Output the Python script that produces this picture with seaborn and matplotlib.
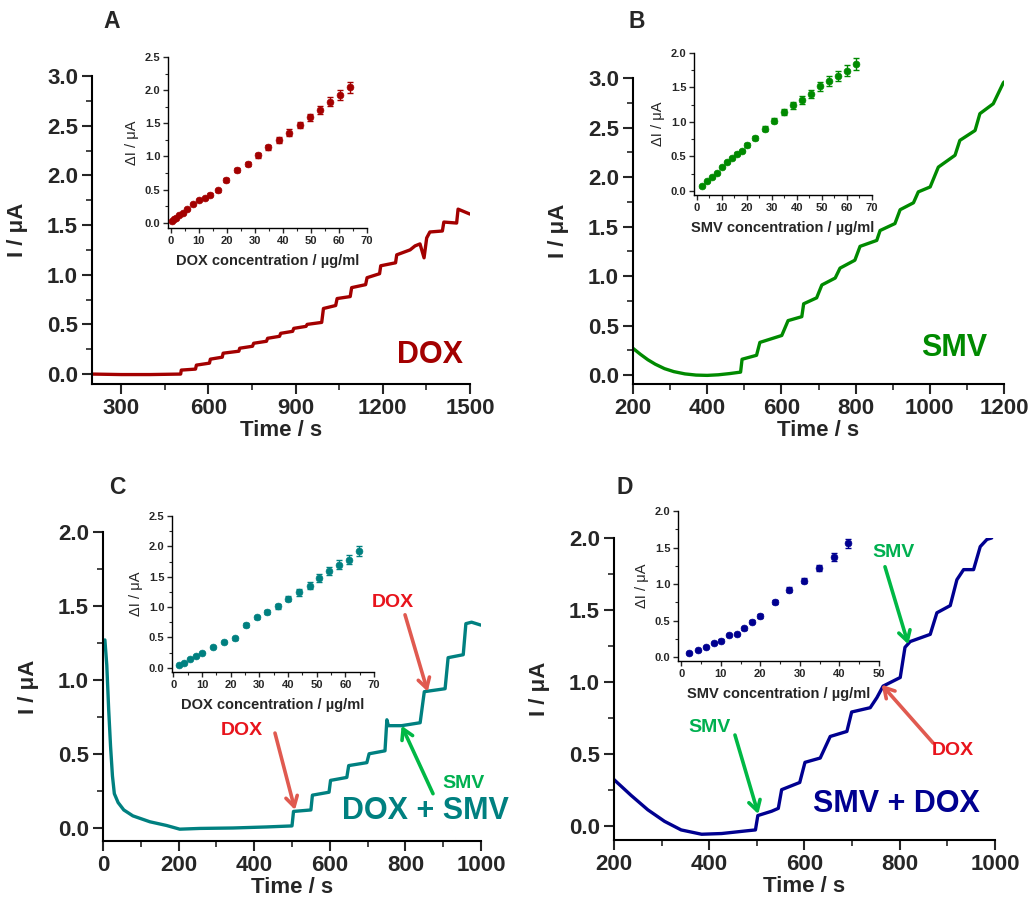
import matplotlib
matplotlib.use("Agg")
import matplotlib.pyplot as plt
from matplotlib.ticker import MultipleLocator
import seaborn as sns

# ---- main amperometric traces (time / s, current / uA)
a_time = [200, 300, 400, 505, 507, 556, 559, 604, 607, 648, 651, 705, 708, 752, 756, 800, 804,
          845, 849, 890, 894, 936, 940, 990, 996, 1038, 1043, 1088, 1093, 1141, 1146, 1189,
          1193, 1244, 1248, 1294, 1311, 1328, 1342, 1351, 1362, 1405, 1410, 1454, 1459, 1500]
a_curr = [0.0, -0.005, -0.005, 0.0, 0.04, 0.05, 0.09, 0.11, 0.15, 0.17, 0.21, 0.23, 0.26, 0.28,
          0.31, 0.33, 0.36, 0.38, 0.41, 0.43, 0.46, 0.48, 0.50, 0.52, 0.66, 0.69, 0.76, 0.78,
          0.87, 0.90, 0.97, 1.01, 1.09, 1.12, 1.20, 1.25, 1.29, 1.31, 1.17, 1.37, 1.43, 1.44,
          1.53, 1.52, 1.66, 1.61]

b_time = [200, 220, 240, 260, 285, 310, 340, 370, 400, 430, 460, 490, 494, 533, 542, 601, 618,
          655, 660, 695, 709, 745, 758, 798, 812, 857, 866, 906, 920, 956, 969, 1001, 1023,
          1068, 1081, 1122, 1135, 1171, 1198, 1200]
b_curr = [0.27, 0.21, 0.155, 0.11, 0.065, 0.035, 0.012, 0.0, -0.003, 0.003, 0.015, 0.03, 0.16,
          0.20, 0.33, 0.40, 0.55, 0.59, 0.72, 0.78, 0.91, 0.98, 1.08, 1.16, 1.30, 1.36, 1.46,
          1.53, 1.67, 1.74, 1.85, 1.90, 2.10, 2.22, 2.37, 2.47, 2.64, 2.74, 2.95, 2.96]

c_time = [5, 10, 15, 20, 25, 30, 40, 55, 79, 124, 168, 203, 256, 344, 432, 500, 504, 550, 554,
          598, 602, 645, 650, 698, 704, 746, 751, 755, 790, 839, 850, 905, 913, 953, 960, 975,
          1000]
c_curr = [1.27, 1.1, 0.8, 0.55, 0.35, 0.23, 0.17, 0.12, 0.08, 0.04, 0.015, -0.01, -0.005,
          -0.002, 0.005, 0.012, 0.11, 0.12, 0.22, 0.24, 0.32, 0.34, 0.42, 0.44, 0.50, 0.52,
          0.73, 0.69, 0.69, 0.71, 0.92, 0.94, 1.15, 1.17, 1.38, 1.39, 1.37]

d_time = [200, 236, 271, 306, 341, 384, 426, 482, 497, 502, 531, 545, 552, 590, 601, 633, 654,
          689, 699, 712, 738, 752, 765, 801, 811, 822, 864, 878, 906, 920, 934, 955, 969, 983,
          993]
d_curr = [0.32, 0.21, 0.11, 0.03, -0.03, -0.06, -0.055, -0.035, -0.03, 0.07, 0.10, 0.12, 0.25,
          0.30, 0.44, 0.47, 0.62, 0.655, 0.79, 0.80, 0.82, 0.89, 0.97, 1.03, 1.24, 1.28, 1.33,
          1.48, 1.53, 1.71, 1.78, 1.78, 1.94, 1.99, 2.0]

# ---- calibration insets (concentration / ug/ml, delta I / uA, error)
a_conc = [0.4, 1.2, 2.0, 3.0, 4.2, 5.9, 8.0, 10.1, 12.1, 14.0, 17.0, 19.8, 23.6, 27.4, 31.0,
          34.7, 38.5, 42.3, 46.0, 49.6, 53.1, 56.7, 60.4, 63.8]
a_di = [0.025, 0.05, 0.075, 0.11, 0.15, 0.21, 0.275, 0.335, 0.375, 0.425, 0.49, 0.65, 0.80,
        0.885, 1.015, 1.135, 1.25, 1.36, 1.475, 1.59, 1.70, 1.825, 1.925, 2.04]
a_err = [0.01, 0.01, 0.01, 0.01, 0.012, 0.015, 0.015, 0.015, 0.015, 0.02, 0.02, 0.03, 0.03,
         0.03, 0.035, 0.04, 0.045, 0.05, 0.05, 0.055, 0.06, 0.065, 0.07, 0.08]

b_conc = [2, 4, 6, 8, 10, 12, 14, 16, 18, 20, 23.5, 27.2, 31, 34.7, 38.4, 42, 45.7, 49.4, 53,
          56.6, 60.2, 63.8]
b_di = [0.073, 0.136, 0.194, 0.262, 0.35, 0.417, 0.48, 0.54, 0.58, 0.665, 0.77, 0.90, 1.02,
        1.14, 1.24, 1.32, 1.41, 1.52, 1.59, 1.67, 1.74, 1.84]
b_err = [0.01, 0.01, 0.01, 0.012, 0.015, 0.015, 0.015, 0.02, 0.02, 0.025, 0.03, 0.035, 0.04,
         0.045, 0.05, 0.055, 0.06, 0.065, 0.07, 0.075, 0.08, 0.09]

c_conc = [1.85, 3.8, 5.9, 7.9, 9.8, 13.7, 17.6, 21.6, 25.4, 29.1, 32.7, 36.4, 40.1, 43.8, 47.5,
          50.9, 54.4, 57.8, 61.3, 64.8]
c_di = [0.038, 0.082, 0.148, 0.19, 0.25, 0.346, 0.423, 0.489, 0.703, 0.83, 0.92, 1.016, 1.14,
        1.24, 1.35, 1.48, 1.59, 1.70, 1.78, 1.92]
c_err = [0.01, 0.01, 0.01, 0.012, 0.015, 0.02, 0.02, 0.025, 0.03, 0.03, 0.035, 0.04, 0.045,
         0.05, 0.055, 0.06, 0.065, 0.07, 0.075, 0.08]

d_conc = [2.1, 4.2, 6.2, 8.2, 10.1, 12.1, 14.1, 16.0, 17.9, 19.9, 23.6, 27.3, 31.1, 34.8,
          38.6, 42.1]
d_di = [0.059, 0.096, 0.146, 0.196, 0.23, 0.30, 0.324, 0.40, 0.486, 0.563, 0.758, 0.922,
        1.05, 1.22, 1.37, 1.56]
d_err = [0.01, 0.01, 0.012, 0.012, 0.015, 0.015, 0.015, 0.02, 0.02, 0.025, 0.03, 0.035, 0.04,
         0.045, 0.05, 0.06]

RED = "#A30000"
GREEN = "#008A00"
TEAL = "#008080"
NAVY = "#000090"
ARROW_RED = "#E05A50"
ARROW_GREEN = "#00B845"
TXT_RED = "#E8141C"
TXT_GREEN = "#00B050"

sns.set_theme(style="ticks")
plt.rcParams["font.family"] = ["Liberation Sans", "DejaVu Sans"]
plt.rcParams["font.weight"] = "bold"

W, H = 1031, 907
fig = plt.figure(figsize=(W / 100, H / 100), dpi=100)


def box(l, t, r, b):
    return [l / W, 1 - b / H, (r - l) / W, (b - t) / H]


def style_main(ax, xlim, ylim, xmaj, xmin):
    ax.set_xlim(*xlim)
    ax.set_ylim(*ylim)
    ax.xaxis.set_major_locator(MultipleLocator(xmaj))
    ax.xaxis.set_minor_locator(MultipleLocator(xmin))
    ax.yaxis.set_major_locator(MultipleLocator(0.5))
    ax.yaxis.set_minor_locator(MultipleLocator(0.25))
    sns.despine(ax=ax)
    for s in ("left", "bottom"):
        ax.spines[s].set_linewidth(1.5)
        ax.spines[s].set_color("black")
    ax.tick_params(which="major", direction="out", length=7, width=1.5, labelsize=16, pad=3)
    ax.tick_params(which="minor", direction="out", length=4, width=1.2)
    ax.set_xlabel("Time / s", fontsize=16, fontweight="bold", labelpad=1)
    ax.set_ylabel("I / μA", fontsize=16, fontweight="bold", labelpad=14)
    for lab in ax.get_xticklabels() + ax.get_yticklabels():
        lab.set_fontweight("bold")


def style_inset(ax, xlim, ylim, xmaj, ymaj, xlabel):
    ax.set_xlim(*xlim)
    ax.set_ylim(*ylim)
    ax.xaxis.set_major_locator(MultipleLocator(xmaj))
    ax.xaxis.set_minor_locator(MultipleLocator(xmaj / 2))
    ax.yaxis.set_major_locator(MultipleLocator(ymaj))
    ax.yaxis.set_minor_locator(MultipleLocator(ymaj / 2))
    sns.despine(ax=ax)
    for s in ("left", "bottom"):
        ax.spines[s].set_linewidth(1.0)
        ax.spines[s].set_color("black")
    ax.tick_params(which="major", direction="out", length=3.5, width=1, labelsize=8, pad=2)
    ax.tick_params(which="minor", direction="out", length=2, width=0.8)
    ax.set_xlabel(xlabel, fontsize=10.5, fontweight="bold", labelpad=6)
    ax.set_ylabel("ΔI / μA", fontsize=10.5, fontweight="normal", labelpad=4)
    ax.patch.set_alpha(0)
    for lab in ax.get_xticklabels() + ax.get_yticklabels():
        lab.set_fontweight("bold")


def trace(ax, t, i, color):
    sns.lineplot(x=t, y=i, ax=ax, color=color, lw=2.4, estimator=None, sort=False)


def calib(ax, c, d, e, color):
    ax.errorbar(c, d, yerr=e, fmt="none", ecolor=color, elinewidth=1, capsize=2.5, capthick=1)
    sns.scatterplot(x=c, y=d, ax=ax, color=color, s=24, edgecolor=color, linewidth=0.5, zorder=3)


def arrow(ax, tail, tip, color):
    ax.annotate("", xy=tip, xytext=tail,
                arrowprops=dict(arrowstyle="->,head_length=0.6,head_width=0.35",
                                lw=2.6, color=color, shrinkA=0, shrinkB=0))


# ---------------- A
axA = fig.add_axes(box(92, 76, 470, 384))
trace(axA, a_time, a_curr, RED)
style_main(axA, (200, 1500), (-0.1, 3.0), 300, 150)
axA.text(1362, 0.19, "DOX", color=RED, fontsize=22, fontweight="bold", ha="center", va="center")
insA = fig.add_axes(box(168, 57, 367, 228))
calib(insA, a_conc, a_di, a_err, RED)
style_inset(insA, (-1, 70), (-0.08, 2.5), 10, 0.5, "DOX concentration / µg/ml")

# ---------------- B
axB = fig.add_axes(box(633, 78, 1004, 384))
trace(axB, b_time, b_curr, GREEN)
style_main(axB, (200, 1200), (-0.09, 3.0), 200, 100)
axB.text(1067, 0.27, "SMV", color=GREEN, fontsize=22, fontweight="bold", ha="center", va="center")
insB = fig.add_axes(box(694, 53, 872, 195))
calib(insB, b_conc, b_di, b_err, GREEN)
style_inset(insB, (-1, 70), (-0.06, 2.0), 10, 0.5, "SMV concentration / µg/ml")

# ---------------- C
axC = fig.add_axes(box(103, 532, 481, 841))
trace(axC, c_time, c_curr, TEAL)
style_main(axC, (0, 1000), (-0.09, 2.0), 200, 100)
arrow(axC, (455, 0.64), (508, 0.12), ARROW_RED)
axC.text(366, 0.66, "DOX", color=TXT_RED, fontsize=14, fontweight="bold", ha="center", va="center")
arrow(axC, (799, 1.44), (859, 0.92), ARROW_RED)
axC.text(767, 1.52, "DOX", color=TXT_RED, fontsize=14, fontweight="bold", ha="center", va="center")
arrow(axC, (873, 0.23), (790, 0.69), ARROW_GREEN)
axC.text(953, 0.30, "SMV", color=TXT_GREEN, fontsize=14, fontweight="bold", ha="center", va="center")
axC.text(852, 0.11, "DOX + SMV", color=TEAL, fontsize=22, fontweight="bold",
         ha="center", va="center", clip_on=False)
insC = fig.add_axes(box(172, 516, 374, 672))
calib(insC, c_conc, c_di, c_err, TEAL)
style_inset(insC, (-0.5, 70), (-0.07, 2.5), 10, 0.5, "DOX concentration / µg/ml")

# ---------------- D
axD = fig.add_axes(box(614, 538, 995, 840))
trace(axD, d_time, d_curr, NAVY)
style_main(axD, (200, 1000), (-0.1, 2.0), 200, 100)
arrow(axD, (454, 0.63), (503, 0.08), ARROW_GREEN)
axD.text(400, 0.68, "SMV", color=TXT_GREEN, fontsize=14, fontweight="bold", ha="center", va="center")
arrow(axD, (769, 1.80), (818, 1.26), ARROW_GREEN)
axD.text(786, 1.90, "SMV", color=TXT_GREEN, fontsize=14, fontweight="bold", ha="center", va="center")
arrow(axD, (870, 0.575), (762, 0.98), ARROW_RED)
axD.text(912, 0.52, "DOX", color=TXT_RED, fontsize=14, fontweight="bold", ha="center", va="center")
axD.text(793, 0.15, "SMV + DOX", color=NAVY, fontsize=22, fontweight="bold", ha="center", va="center")
insD = fig.add_axes(box(678, 511, 879, 661))
calib(insD, d_conc, d_di, d_err, NAVY)
style_inset(insD, (-0.8, 50), (-0.05, 2.0), 10, 0.5, "SMV concentration / µg/ml")

# panel letters
for lbl, x, y in [("A", 112, 22), ("B", 637, 22), ("C", 117, 487), ("D", 625, 487)]:
    fig.text(x / W, 1 - y / H, lbl, fontsize=16.5, fontweight="bold", ha="center", va="center")

fig.savefig("out.png", dpi=100)
